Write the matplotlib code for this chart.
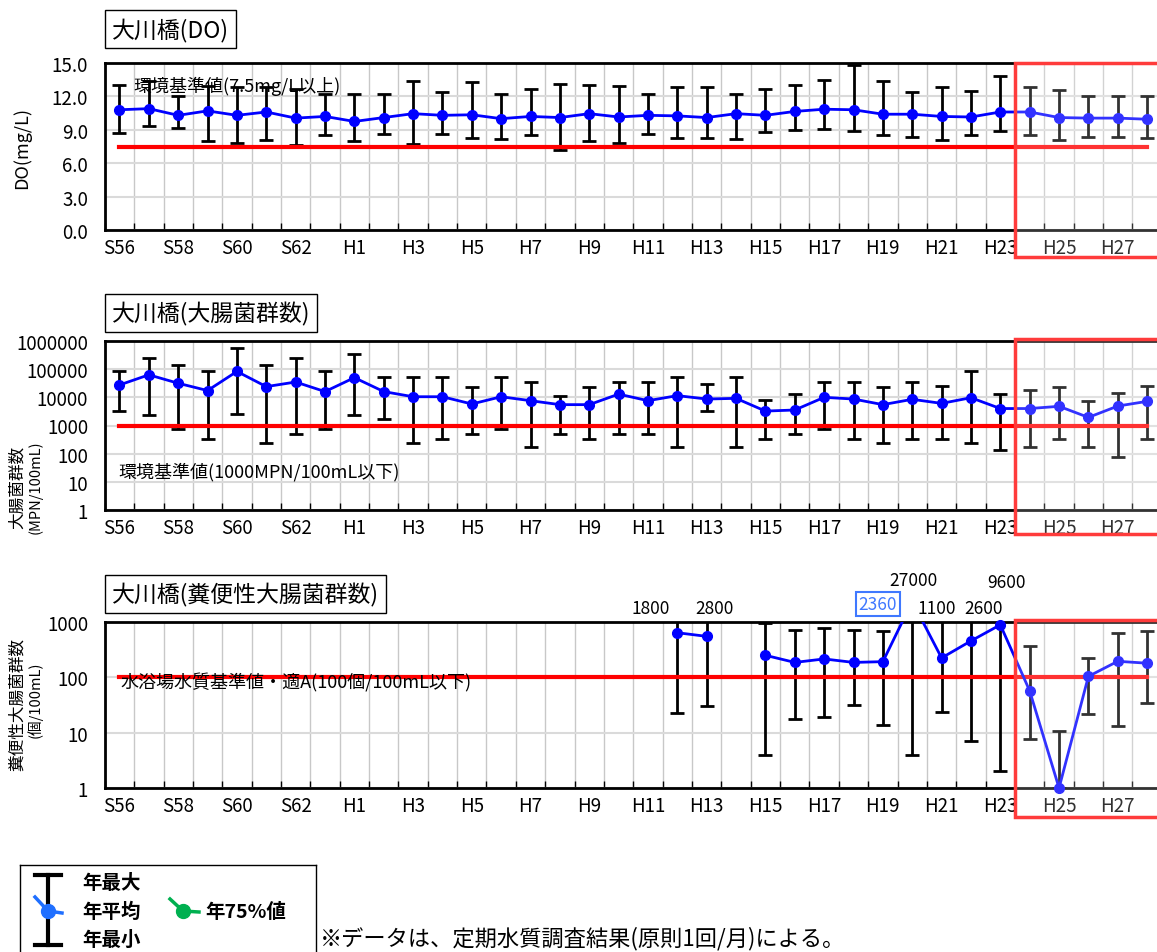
import numpy as np
import matplotlib
matplotlib.use('Agg')
import matplotlib.pyplot as plt
import matplotlib.patches as mpatches
import matplotlib.transforms as mtransforms
from matplotlib.ticker import FixedLocator, NullLocator, FormatStrFormatter

plt.rcParams['font.family'] = ['Noto Sans CJK JP', 'DejaVu Sans']

W, H = 1157, 953
nan = np.nan

# 年度 (S56 - H28)
years = ['S%d' % y for y in range(56, 64)] + ['H%d' % y for y in range(1, 29)]

# DO (mg/L)
do_mean = [10.8, 10.9, 10.3, 10.7, 10.3, 10.6, 10.05, 10.2, 9.75, 10.1,
           10.45, 10.3, 10.35, 10.0, 10.2, 10.1, 10.45, 10.15, 10.3, 10.25,
           10.1, 10.45, 10.3, 10.65, 10.85, 10.8, 10.4, 10.4, 10.2, 10.15,
           10.6, 10.6, 10.1, 10.05, 10.05, 9.95]
do_max = [13.0, 13.4, 12.0, 12.9, 12.8, 12.8, 12.7, 12.2, 12.25, 12.25,
          13.4, 12.4, 13.25, 12.25, 12.65, 13.1, 13.05, 12.95, 12.25, 12.8,
          12.85, 12.25, 12.65, 13.05, 13.45, 14.8, 13.4, 12.4, 12.85, 12.45,
          13.8, 12.85, 12.6, 12.0, 12.0, 12.0]
do_min = [8.7, 9.3, 9.2, 7.95, 7.85, 8.1, 7.6, 8.5, 7.95, 8.6,
          7.7, 8.6, 8.3, 8.2, 8.5, 7.15, 8.0, 7.8, 8.6, 8.3,
          8.3, 8.2, 8.8, 9.0, 9.1, 8.9, 8.5, 8.35, 8.1, 8.5,
          8.9, 8.5, 8.1, 8.35, 8.35, 8.3]
do_std = 7.5

# 大腸菌群数 (MPN/100mL)
col_mean = [27500, 63000, 31600, 17400, 83000, 24000, 35000, 16000, 50000, 16000,
            10500, 10500, 5800, 10500, 7600, 5500, 5500, 13000, 7600, 11500,
            8700, 9200, 3250, 3550, 10000, 8700, 5500, 8500, 6100, 9700,
            4000, 4000, 4800, 1940, 4900, 7200]
col_max = [83000, 245000, 135000, 83000, 560000, 135000, 245000, 83000, 345000, 51000,
           51000, 51000, 24000, 51000, 34500, 11000, 23000, 34500, 34500, 51000,
           29000, 51000, 7800, 13500, 34500, 34500, 24000, 34500, 25500, 83000,
           13500, 17800, 24000, 7200, 14700, 26000]
col_min = [3300, 2300, 760, 330, 2500, 230, 490, 760, 2400, 1730,
           230, 330, 500, 760, 170, 500, 330, 500, 500, 170,
           3200, 170, 330, 500, 760, 330, 230, 330, 330, 245,
           130, 170, 330, 170, 76, 330]
col_std = 1000

# 糞便性大腸菌群数 (個/100mL), H12 以降
fec_mean = [nan] * 19 + [640, 550, nan, 250, 186, 215, 186, 192, 2360, 224,
                         455, 890, 57, 1.0, 104, 195, 180]
fec_max = [nan] * 19 + [1800, 2800, nan, 960, 720, 780, 710, 680, 27000, 1100,
                        2600, 9600, 365, 10.7, 224, 640, 690]
fec_min = [nan] * 19 + [23, 30, nan, 3.9, 17.7, 19, 31, 14, 3.9, 24,
                        7, 2, 7.7, 1.0, 22, 13, 34]
fec_std = 100

# 上限を超えた値のラベル位置 (x方向のずれ, 軸上の高さ)
fec_label_pos = {'H12': (-0.9, 1.084), 'H13': (0.26, 1.084), 'H20': (0.03, 1.253),
                 'H21': (-0.18, 1.084), 'H22': (0.43, 1.084), 'H23': (0.21, 1.241)}

x = np.arange(len(years))
fig = plt.figure(figsize=(W / 100, H / 100), dpi=100)


def px_axes(top, bottom):
    return [104.8 / W, 1 - bottom / H, (1161.8 - 104.8) / W, (bottom - top) / H]


def style_axes(ax):
    ax.set_xlim(-0.5, len(years) - 0.5)
    ax.xaxis.set_major_locator(FixedLocator(x[::2]))
    ax.set_xticklabels(years[::2], fontsize=13.5)
    ax.xaxis.set_minor_locator(FixedLocator(np.arange(-0.5, len(years))))
    ax.yaxis.set_minor_locator(NullLocator())
    ax.tick_params(axis='x', which='major', length=0, pad=5)
    ax.tick_params(axis='x', which='minor', direction='in', length=5, width=1, color='black')
    ax.tick_params(axis='y', length=0, pad=12, labelsize=13.5)
    ax.grid(which='minor', axis='x', color='#c8c8c8', lw=1)
    ax.grid(which='major', axis='y', color='#dadada', lw=1.5)
    ax.set_axisbelow(True)
    for s in ax.spines.values():
        s.set_linewidth(2)


def draw_series(ax, mean, mx, mn, std):
    mean, mx, mn = np.array(mean, float), np.array(mx, float), np.array(mn, float)
    ax.errorbar(x, mean, yerr=[mean - mn, mx - mean], fmt='none', ecolor='black',
                elinewidth=2, capsize=5, capthick=2, zorder=3)
    ax.plot([x[0], x[-1]], [std, std], color='#ff0000', lw=3, zorder=3.5)
    ax.plot(x, mean, color='#0000ff', lw=2, zorder=4)
    lo, hi = ax.get_ylim()
    shown = np.where(mean <= hi, mean, nan)
    ax.plot(x, shown, 'o', color='#0000ff', ms=7, clip_on=False, zorder=5)


def red_box(ax, y0, y1):
    # H24 以降を囲む枠
    tr = mtransforms.blended_transform_factory(ax.transData, ax.transAxes)
    ax.add_patch(mpatches.Rectangle((30.5, y0), 10, y1 - y0, transform=tr, clip_on=False,
                                    fc=(1, 1, 1, 0.2), ec='#ff3b3b', lw=2.5, zorder=10))


def title_box(text, y_px):
    fig.text(112 / W, 1 - y_px / H, text, fontsize=16.5, va='center', ha='left',
             bbox=dict(boxstyle='square,pad=0.3', fc='white', ec='black', lw=1))


# DO
ax1 = fig.add_axes(px_axes(64, 231))
style_axes(ax1)
ax1.set_ylim(0, 15)
ax1.set_yticks(np.arange(0, 15.1, 3))
ax1.yaxis.set_major_formatter(FormatStrFormatter('%.1f'))
draw_series(ax1, do_mean, do_max, do_min, do_std)
ax1.text(0.46, 13.0, '環境基準値(7.5mg/L以上)', fontsize=13, va='center', zorder=6)
red_box(ax1, -0.162, 1.0)
title_box('大川橋(DO)', 30)
fig.text(22 / W, 1 - 148 / H, 'DO(mg/L)', rotation=90, fontsize=13, ha='center', va='center')

# 大腸菌群数
ax2 = fig.add_axes(px_axes(342, 511))
ax2.set_yscale('log')
style_axes(ax2)
ax2.set_ylim(1, 1e6)
col_ticks = [1, 10, 100, 1000, 10000, 100000, 1000000]
ax2.yaxis.set_major_locator(FixedLocator(col_ticks))
ax2.set_yticklabels([str(t) for t in col_ticks])
draw_series(ax2, col_mean, col_max, col_min, col_std)
ax2.text(-0.05, 24, '環境基準値(1000MPN/100mL以下)', fontsize=13, va='center', zorder=6)
red_box(ax2, -0.142, 1.012)
title_box('大川橋(大腸菌群数)', 314)
fig.text(17 / W, 1 - 487 / H, '大腸菌群数', rotation=90, fontsize=12, ha='center', va='center')
fig.text(35 / W, 1 - 487 / H, '(MPN/100mL)', rotation=90, fontsize=10.5, ha='center', va='center')

# 糞便性大腸菌群数
ax3 = fig.add_axes(px_axes(623, 789))
ax3.set_yscale('log')
style_axes(ax3)
ax3.set_ylim(1, 1000)
fec_ticks = [1, 10, 100, 1000]
ax3.yaxis.set_major_locator(FixedLocator(fec_ticks))
ax3.set_yticklabels([str(t) for t in fec_ticks])
draw_series(ax3, fec_mean, fec_max, fec_min, fec_std)
ax3.text(0.02, 83, '水浴場水質基準値・適A(100個/100mL以下)', fontsize=13, va='center', zorder=6)
red_box(ax3, -0.175, 1.012)
title_box('大川橋(糞便性大腸菌群数)', 595)
fig.text(17 / W, 1 - 705 / H, '糞便性大腸菌群数', rotation=90, fontsize=12, ha='center', va='center')
fig.text(35 / W, 1 - 700 / H, '(個/100mL)', rotation=90, fontsize=10.5, ha='center', va='center')

tr3 = mtransforms.blended_transform_factory(ax3.transData, ax3.transAxes)
for i, yr in enumerate(years):
    if yr in fec_label_pos:
        dx, yy = fec_label_pos[yr]
        ax3.text(i + dx, yy, '%d' % fec_max[i], transform=tr3, fontsize=12.5,
                 ha='center', va='center', clip_on=False)
i20 = years.index('H20')
ax3.text(i20 - 1.17, 1.108, '%d' % fec_mean[i20], transform=tr3, fontsize=12.5, color='#3f78ff',
         ha='center', va='center', clip_on=False,
         bbox=dict(boxstyle='square,pad=0.15', fc='white', ec='#3f78ff', lw=1.5))

# 凡例
lax = fig.add_axes([20 / W, 0, 296 / W, 87 / H])
lax.set_xlim(20, 316)
lax.set_ylim(953, 866)
lax.set_xticks([])
lax.set_yticks([])
lax.spines['bottom'].set_visible(False)
for s in lax.spines.values():
    s.set_linewidth(1)
lax.plot([48, 48], [876, 946], color='black', lw=3)
lax.plot([35, 61], [876, 876], color='black', lw=3)
lax.plot([35, 61], [946, 946], color='black', lw=3)
lax.plot([35, 48, 62], [898, 912, 914], color='#1f6fff', lw=2.5)
lax.plot([48], [912], 'o', color='#1f6fff', ms=10)
lax.plot([170, 183, 199], [900, 912, 913], color='#00b050', lw=2.5)
lax.plot([183], [912], 'o', color='#00b050', ms=10)
for label, yy in [('年最大', 884), ('年平均', 912), ('年最小', 940)]:
    lax.text(82, yy, label, fontsize=14, fontweight='bold', va='center')
lax.text(205, 912, '年75%値', fontsize=14, fontweight='bold', va='center')

fig.text(320 / W, 1 - 939 / H, '※データは、定期水質調査結果(原則1回/月)による。', fontsize=16, va='center')

fig.savefig('out.png', dpi=100)
